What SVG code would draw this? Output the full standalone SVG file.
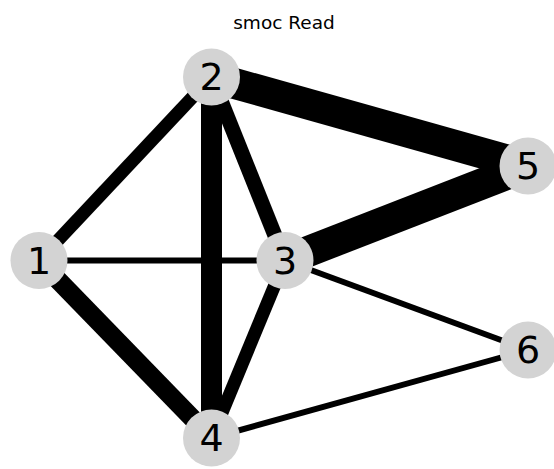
<svg xmlns="http://www.w3.org/2000/svg" width="554" height="469" viewBox="0 0 554 469">
  <style>
    .edge { stroke: #000; stroke-linecap: butt; fill: none; }
    .node circle { fill: #d3d3d3; }
    .node text { font-family: "DejaVu Sans", sans-serif; font-size: 38px; fill: #000; text-anchor: middle; dominant-baseline: central; }
    .title { font-family: "DejaVu Sans", sans-serif; font-size: 18.5px; fill: #000; text-anchor: middle; }
  </style>
  <rect width="554" height="469" fill="#fff"/>
  <text class="title" x="284" y="29">smoc Read</text>
  <g id="edges">
    <line class="edge" x1="211.5" y1="77" x2="528" y2="166" stroke-width="31"/>
    <line class="edge" x1="285" y1="260.5" x2="528" y2="166" stroke-width="31"/>
    <line class="edge" x1="211.5" y1="77" x2="211.5" y2="438" stroke-width="21"/>
    <line class="edge" x1="39" y1="260.5" x2="211.5" y2="438" stroke-width="19"/>
    <line class="edge" x1="211.5" y1="77" x2="285" y2="260.5" stroke-width="15"/>
    <line class="edge" x1="39" y1="260.5" x2="211.5" y2="77" stroke-width="13"/>
    <line class="edge" x1="285" y1="260.5" x2="211.5" y2="438" stroke-width="13"/>
    <line class="edge" x1="39" y1="260.5" x2="285" y2="260.5" stroke-width="6"/>
    <line class="edge" x1="285" y1="260.5" x2="528" y2="350" stroke-width="6"/>
    <line class="edge" x1="211.5" y1="438" x2="528" y2="350" stroke-width="6"/>
  </g>
  <g id="node1" class="node"><circle cx="39" cy="260.5" r="28.5"/><text x="39" y="260.5">1</text></g>
  <g id="node2" class="node"><circle cx="211.5" cy="77" r="28.5"/><text x="211.5" y="77">2</text></g>
  <g id="node3" class="node"><circle cx="285" cy="260.5" r="28.5"/><text x="285" y="260.5">3</text></g>
  <g id="node4" class="node"><circle cx="211.5" cy="438" r="28.5"/><text x="211.5" y="438">4</text></g>
  <g id="node5" class="node"><circle cx="528" cy="166" r="28.5"/><text x="528" y="166">5</text></g>
  <g id="node6" class="node"><circle cx="528" cy="350" r="28.5"/><text x="528" y="350">6</text></g>
</svg>
